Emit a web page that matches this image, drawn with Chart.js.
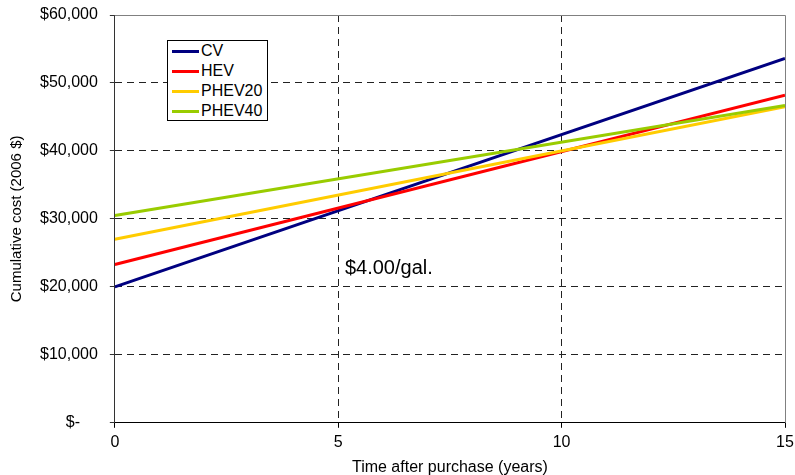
<!DOCTYPE html>
<html>
<head>
<meta charset="utf-8">
<script src="https://cdn.jsdelivr.net/npm/chart.js@4"></script>
<style>
  body { margin: 0; background: #fff; }
  #wrap { position: relative; width: 795px; height: 475px; }
  #legend {
    position: absolute; left: 167px; top: 40px; width: 99px; height: 79px;
    border: 1px solid #000; background: #fff;
    font: 16px "Liberation Sans", Arial, sans-serif; color: #000;
  }
  .item { position: absolute; left: 4px; height: 20px; line-height: 20px; white-space: nowrap; }
  .swatch { display: inline-block; width: 27px; height: 3px; vertical-align: middle; margin-right: 2px; }
</style>
</head>
<body>
<div id="wrap">
  <canvas id="costChart"></canvas>
  <div id="legend"></div>
</div>
<script>
// data
const years = [0, 15];
const cv = [20000, 53600];
const hev = [23300, 48200];
const phev20 = [27000, 46500];
const phev40 = [30500, 46700];

const seriesNames = ["CV", "HEV", "PHEV20", "PHEV40"];
const seriesColors = ["#000080", "#ff0000", "#ffcc00", "#99cc00"];

const yTickLabels = ["$-    ", "$10,000", "$20,000", "$30,000", "$40,000", "$50,000", "$60,000"];
const xTickLabels = ["0", "5", "10", "15"];

const note = "$4.00/gal.";
const notePos = { x: 5.15, y: 21900 };

const font = "'Liberation Sans', Arial, sans-serif";

const toPoints = (vals) => vals.map((v, i) => ({ x: years[i], y: v }));
const allSeries = [cv, hev, phev20, phev40];

const datasets = allSeries.map((vals, i) => ({
  label: seriesNames[i],
  data: toPoints(vals),
  borderColor: seriesColors[i],
  backgroundColor: seriesColors[i],
  borderWidth: 3,
  pointRadius: 0,
  showLine: true,
  order: allSeries.length - i, // later series on top, like the original
}));

// top and right frame + the price note
const extras = {
  id: "extras",
  afterDatasetsDraw(chart) {
    const { ctx, chartArea: a, scales } = chart;
    ctx.save();
    ctx.strokeStyle = "#808080";
    ctx.lineWidth = 1;
    ctx.beginPath();
    ctx.moveTo(a.left, a.top + 0.5);
    ctx.lineTo(a.right + 0.5, a.top + 0.5);
    ctx.lineTo(a.right + 0.5, a.bottom);
    ctx.stroke();
    ctx.fillStyle = "#000";
    ctx.font = "20px " + font;
    ctx.textBaseline = "alphabetic";
    ctx.fillText(note, scales.x.getPixelForValue(notePos.x), scales.y.getPixelForValue(notePos.y));
    ctx.restore();
  },
};

const gridColor = (last) => (c) => (c.tick && c.tick.value === last ? "rgba(0,0,0,0)" : "#222");

new Chart(document.getElementById("costChart"), {
  type: "scatter",
  data: { datasets },
  options: {
    responsive: true,
    maintainAspectRatio: false,
    animation: false,
    layout: { padding: { top: 0, right: 0, left: 0, bottom: -2 } },
    plugins: { legend: { display: false }, tooltip: { enabled: false } },
    scales: {
      x: {
        type: "linear",
        min: 0,
        max: 15,
        afterFit: (s) => { s.paddingRight = 10; },
        ticks: {
          stepSize: 5,
          padding: 7,
          color: "#000",
          font: { family: font, size: 16, lineHeight: 1 },
          callback: (v) => xTickLabels[v / 5],
        },
        grid: { color: gridColor(15), tickColor: "#000", tickLength: 5 },
        border: { color: "#000", width: 1, dash: [7, 5] },
        title: {
          display: true,
          text: "Time after purchase (years)",
          color: "#000",
          font: { family: font, size: 16 },
          padding: { top: 0, bottom: 0 },
        },
      },
      y: {
        min: 0,
        max: 60000,
        afterFit: (s) => { s.paddingTop = 15; },
        ticks: {
          stepSize: 10000,
          padding: 12,
          color: "#000",
          font: { family: font, size: 16 },
          callback: (v) => yTickLabels[v / 10000],
        },
        grid: { color: gridColor(60000), tickColor: "#333", tickLength: 5 },
        border: { color: "#333", width: 1, dash: [7, 5] },
        title: {
          display: true,
          text: "Cumulative cost (2006 $)",
          color: "#000",
          font: { family: font, size: 15 },
          padding: { top: 8, bottom: 2 },
        },
      },
    },
  },
  plugins: [extras],
});

// legend box drawn from the same arrays
document.getElementById("legend").innerHTML = seriesNames
  .map(
    (name, i) =>
      `<div class="item" style="top:${i * 20}px"><span class="swatch" style="background:${seriesColors[i]}"></span>${name}</div>`
  )
  .join("");
</script>
</body>
</html>
